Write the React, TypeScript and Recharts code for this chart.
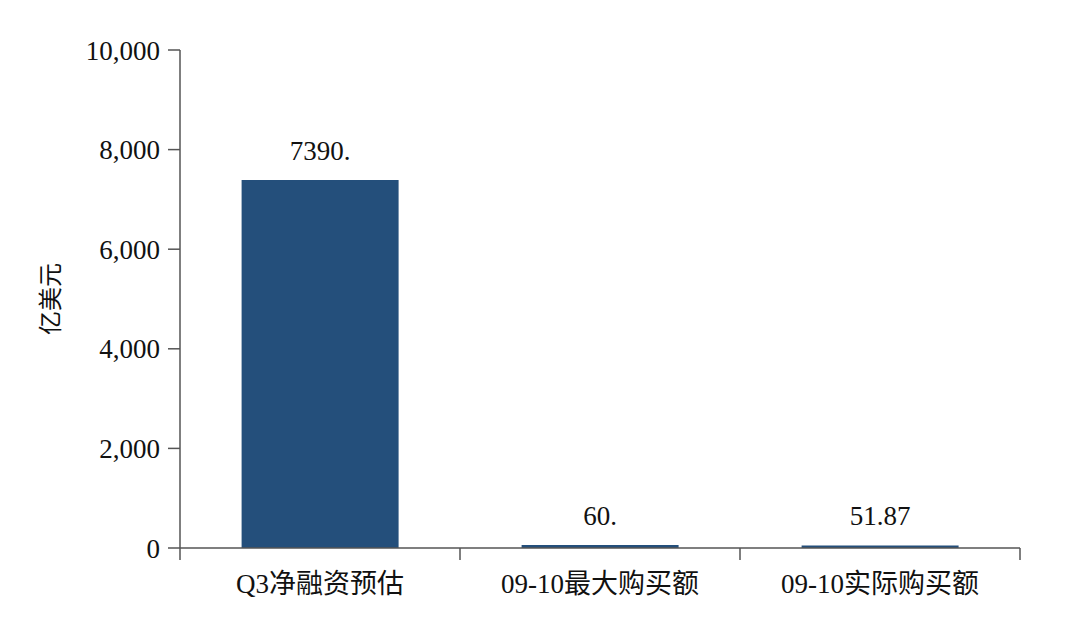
import { BarChart, Bar, XAxis, YAxis, LabelList } from "recharts";

const categories = ["Q3净融资预估", "09-10最大购买额", "09-10实际购买额"];
const values = [7390, 60, 51.87];
const valueLabels = ["7390.", "60.", "51.87"];
const yTicks = [0, 2000, 4000, 6000, 8000, 10000];

const FONT = '"Liberation Serif", "Times New Roman", "Noto Sans CJK SC", serif';
const BAR_COLOR = "#244f7b";
const AXIS_COLOR = "#555555";

const CHART_W = 1080;
const CHART_H = 634;
const MARGIN = { top: 50, right: 60, bottom: 0, left: 0 };
const Y_AXIS_W = 180;
const X_TICK_GAP = 26;
const BAND = (CHART_W - MARGIN.left - MARGIN.right - Y_AXIS_W) / categories.length;

const data = categories.map((name, i) => ({ name, value: values[i], label: valueLabels[i] }));

// category label plus the small tick marks on the band boundaries
function CategoryTick(props: any) {
  const { x, y, payload, index } = props;
  const axisY = y - X_TICK_GAP;
  const last = index === categories.length - 1;
  return (
    <g>
      <line x1={x - BAND / 2} x2={x - BAND / 2} y1={axisY} y2={axisY + 12} stroke={AXIS_COLOR} strokeWidth={1.5} />
      {last && (
        <line x1={x + BAND / 2} x2={x + BAND / 2} y1={axisY} y2={axisY + 12} stroke={AXIS_COLOR} strokeWidth={1.5} />
      )}
      <text x={x} y={y} dy="0.71em" textAnchor="middle" fill="#111" fontSize={27} fontFamily={FONT}>
        {payload.value}
      </text>
    </g>
  );
}

export default function App() {
  return (
    <div style={{ position: "absolute", left: 0, top: 0, width: CHART_W, height: CHART_H, background: "#fff" }}>
      <BarChart width={CHART_W} height={CHART_H} data={data} margin={MARGIN} barCategoryGap="22%">
        <XAxis
          dataKey="name"
          height={86}
          axisLine={{ stroke: AXIS_COLOR, strokeWidth: 1.5 }}
          tickLine={false}
          tickSize={0}
          tickMargin={X_TICK_GAP}
          interval={0}
          tick={<CategoryTick />}
        />
        <YAxis
          width={Y_AXIS_W}
          domain={[0, 10000]}
          ticks={yTicks}
          tickFormatter={(v: number) => v.toLocaleString("en-US")}
          axisLine={{ stroke: AXIS_COLOR, strokeWidth: 1.5 }}
          tickLine={{ stroke: AXIS_COLOR, strokeWidth: 1.5 }}
          tickSize={12}
          tickMargin={8}
          tick={{ fill: "#111", fontSize: 27, fontFamily: FONT }}
          label={{
            value: "亿美元",
            angle: -90,
            position: "insideLeft",
            offset: 50,
            style: { fill: "#111", fontSize: 24, fontFamily: FONT, textAnchor: "middle" },
          }}
        />
        <Bar dataKey="value" fill={BAR_COLOR} isAnimationActive={false}>
          <LabelList
            dataKey="label"
            position="top"
            offset={20}
            style={{ fill: "#111", fontSize: 27, fontFamily: FONT }}
          />
        </Bar>
      </BarChart>
    </div>
  );
}
